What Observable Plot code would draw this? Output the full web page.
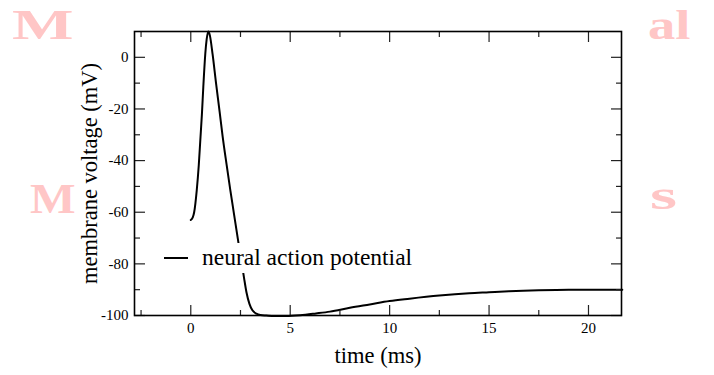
<!DOCTYPE html>
<html>
<head>
<meta charset="utf-8">
<script src="https://cdn.jsdelivr.net/npm/d3@7"></script>
<script src="https://cdn.jsdelivr.net/npm/@observablehq/plot@0.6"></script>
<style>
  html, body { margin: 0; padding: 0; background: #fff; }
  #wrap { position: relative; width: 714px; height: 375px; overflow: hidden; font-family: "Liberation Serif", "Times New Roman", serif; }
  .wm { position: absolute; color: #ffc6c6; font-weight: bold; font-family: "Liberation Serif", serif; line-height: 1; transform-origin: left top; }
  #legend { position: absolute; left: 158px; top: 243px; width: 262px; height: 30px; background: #fff; }
  #legend .sw { position: absolute; left: 6px; top: 14px; width: 24px; height: 2px; background: #000; }
  #legend .lt { position: absolute; left: 44px; top: 0px; font-family: "Liberation Serif", "Times New Roman", serif; font-size: 23.5px; line-height: 28px; color: #000; white-space: nowrap; }
</style>
</head>
<body>
<div id="wrap">
  <div class="wm" style="left:12px;top:4px;font-size:42px;transform:scaleX(1.55);">M</div>
  <div class="wm" style="left:648px;top:4px;font-size:42px;transform:scaleX(1.3);">al</div>
  <div class="wm" style="left:30px;top:178px;font-size:42px;transform:scaleX(1.15);">M</div>
  <div class="wm" style="left:650px;top:174px;font-size:42px;transform:scaleX(1.65);">s</div>
  <div id="chart"></div>
  <div id="legend"><div class="sw"></div><div class="lt">neural action potential</div></div>
</div>
<script>
// Data
const timeMs = [0, 0.1, 0.17, 0.3, 0.4, 0.48, 0.56, 0.63, 0.73, 0.8, 0.88, 0.96, 1.1, 1.27, 1.45, 1.6, 1.8, 1.99, 2.18, 2.39, 2.55, 2.68, 2.8, 2.95, 3.1, 3.3, 3.5, 3.8, 4.2, 4.8, 5.5, 6.3, 7, 8, 9, 10, 11, 12.5, 14, 15, 16, 17.5, 19, 20, 21.7];
const voltageMv = [-63, -62, -60, -51.5, -42, -32, -22, -11.5, 1.4, 7, 10, 8.5, 1, -10, -21, -30.5, -41.5, -51.5, -61, -71.5, -79, -85.5, -91, -95.5, -98, -99.3, -99.8, -100, -100.2, -100.2, -99.9, -99.2, -98.5, -97, -95.7, -94.4, -93.5, -92.3, -91.4, -91, -90.6, -90.2, -90, -90, -90];

const xMajorTicks = [0, 5, 10, 15, 20];
const xMinorTicks = [-2.5, 2.5, 7.5, 12.5, 17.5];
const yMajorTicks = [0, -20, -40, -60, -80, -100];
const yMinorTicks = [-10, -30, -50, -70, -90];
const xTitle = "time (ms)";
const yTitle = "membrane voltage (mV)";

const data = timeMs.map((t, i) => ({t, v: voltageMv[i]}));

const tickStyle = {stroke: "#222", strokeWidth: 1.2, fill: "none"};
const plain = d => String(d);

const chart = Plot.plot({
  width: 714,
  height: 375,
  marginLeft: 134,
  marginRight: 93,
  marginTop: 31,
  marginBottom: 60,
  style: {fontFamily: "'Liberation Serif', 'Times New Roman', serif", fontSize: "15px", color: "#000", background: "transparent"},
  x: {domain: [-2.83, 21.66]},
  y: {domain: [-100, 10]},
  marks: [
    Plot.line(data, {x: "t", y: "v", stroke: "#000", strokeWidth: 2, curve: "monotone-x"}),
    // tick labels
    Plot.axisX(xMajorTicks, {anchor: "bottom", tickSize: 0, tickPadding: 7, label: null, fontSize: 15, tickFormat: plain}),
    Plot.axisY(yMajorTicks, {anchor: "left", tickSize: 0, tickPadding: 6, label: null, fontSize: 15, tickFormat: plain}),
    // inward ticks
    Plot.axisX(xMajorTicks, {anchor: "bottom", tickSize: -10, ...tickStyle}),
    Plot.axisX(xMinorTicks, {anchor: "bottom", tickSize: -5, ...tickStyle}),
    Plot.axisX(xMajorTicks, {anchor: "top", tickSize: -10, ...tickStyle}),
    Plot.axisX(xMinorTicks, {anchor: "top", tickSize: -5, ...tickStyle}),
    Plot.axisY(yMajorTicks, {anchor: "left", tickSize: -11, ...tickStyle}),
    Plot.axisY(yMinorTicks, {anchor: "left", tickSize: -6, ...tickStyle}),
    Plot.axisY(yMajorTicks, {anchor: "right", tickSize: -11, ...tickStyle}),
    Plot.axisY(yMinorTicks, {anchor: "right", tickSize: -6, ...tickStyle}),
    Plot.frame({stroke: "#000", strokeWidth: 1.6}),
    // axis titles
    Plot.text([xTitle], {frameAnchor: "bottom", dy: 47, fontSize: 22.5, text: d => d}),
    Plot.text([yTitle], {frameAnchor: "left", textAnchor: "middle", dx: -45, rotate: -90, fontSize: 22.5, text: d => d})
  ]
});
document.getElementById("chart").appendChild(chart);
</script>
</body>
</html>
